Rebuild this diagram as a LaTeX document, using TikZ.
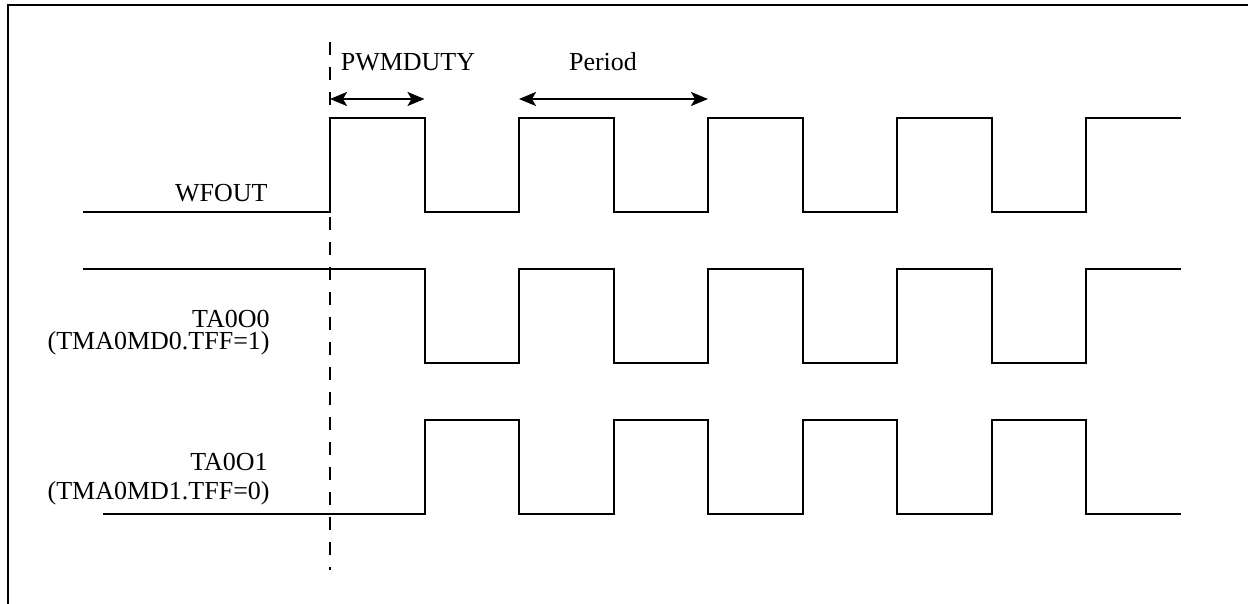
\documentclass[tikz,border=0pt]{standalone}
\usepackage{fontspec}
\setmainfont{Liberation Serif}
\usetikzlibrary{arrows.meta}
\begin{document}
\begin{tikzpicture}[x=0.5pt, y=-0.5pt, >={Stealth[length=8.5pt,width=7pt,inset=2pt]},
    wave/.style={line width=1pt, line join=miter},
    siglabel/.style={anchor=base east, inner sep=0pt, font=\fontsize{13}{15}\selectfont},
    dimlabel/.style={anchor=base, inner sep=0pt, font=\fontsize{13}{15}\selectfont}]
    \useasboundingbox (0,0) rectangle (1248,604);

    % Frame
    \draw[line width=1pt] (1248,5) -- (8,5) -- (8,604);

    % Trigger line
    \coordinate (trigtop) at (330,42);
    \coordinate (trigbot) at (330,570);
    \draw[line width=0.7pt, dash pattern=on 6.5pt off 6pt] (trigtop) -- (trigbot);

    % WFOUT
    \draw[wave] (83,212) foreach \x in {330,519,708,897} {
        -- (\x,212) -- (\x,118) -- ++(94.5,0) -- ++(0,94) }
        -- (1086,212) -- (1086,118) -- (1181,118);
    \node[siglabel] (wfout) at (268,202) {WFOUT};

    % TA0O0
    \draw[wave] (83,269) foreach \x in {424.5,613.5,802.5,991.5} {
        -- (\x,269) -- (\x,363) -- ++(94.5,0) -- ++(0,-94) }
        -- (1181,269);
    \node[siglabel] (ta0) at (270,328) {TA0O0};
    \node[siglabel] (ta0md) at (270,349.5) {(TMA0MD0.TFF=1)};

    % TA0O1
    \draw[wave] (103,514) foreach \x in {424.5,613.5,802.5,991.5} {
        -- (\x,514) -- (\x,420) -- ++(94.5,0) -- ++(0,94) }
        -- (1181,514);
    \node[siglabel] (ta1) at (268,470) {TA0O1};
    \node[siglabel] (ta1md) at (270,499.5) {(TMA0MD1.TFF=0)};

    % Duty and period
    \coordinate (dutyL) at (330,99);
    \coordinate (dutyR) at (424.5,99);
    \coordinate (perL) at (519,99);
    \coordinate (perR) at (708,99);
    \draw[<->, line width=1pt] (dutyL) -- (dutyR);
    \draw[<->, line width=1pt] (perL) -- (perR);
    \node[dimlabel] (duty) at (408,71) {PWMDUTY};
    \node[dimlabel] (period) at (603,71) {Period};
\end{tikzpicture}
\end{document}
